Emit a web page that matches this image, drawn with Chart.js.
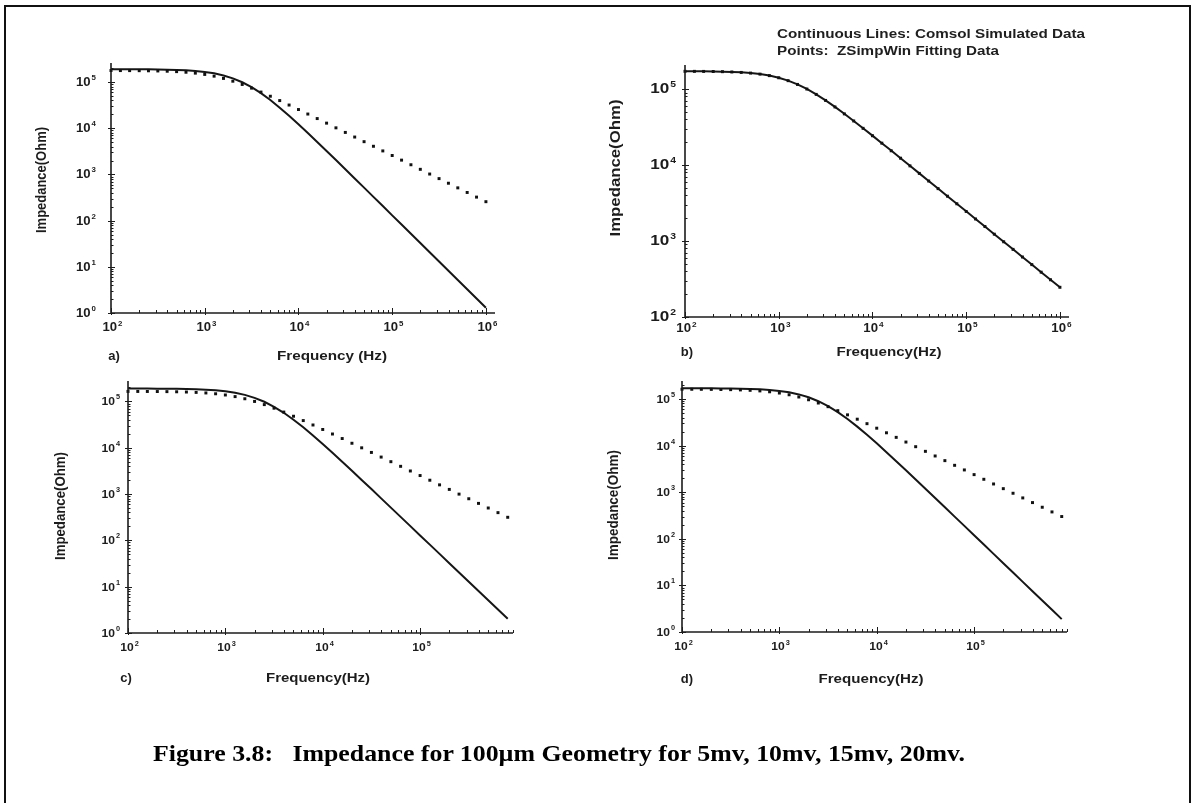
<!DOCTYPE html>
<html>
<head>
<meta charset="utf-8">
<title>Impedance for 100µm Geometry</title>
<script src="https://cdn.jsdelivr.net/npm/chart.js@4.4.1/dist/chart.umd.min.js"></script>
<style>
  html, body { margin: 0; padding: 0; background: #fff; }
  #page { position: relative; width: 1194px; height: 803px; overflow: hidden; background: #fff; }
  #frame { position: absolute; left: 4px; top: 5px; width: 1187px; height: 900px;
           border: 2px solid #111; border-bottom: none; box-sizing: border-box; }
  canvas { position: absolute; left: 0; top: 0; }
  .txt { position: absolute; white-space: pre; transform-origin: 0 50%; color: #1e1e1e; }
  .note { font: bold 12.5px "Liberation Sans", Arial, sans-serif; }
  .caption { font: bold 24px "Liberation Serif", "Times New Roman", serif; color: #000; }
</style>
</head>
<body>
<div id="page">
  <div id="frame"></div>
  <canvas id="chartA" width="1194" height="803"></canvas>
  <canvas id="chartB" width="1194" height="803"></canvas>
  <canvas id="chartC" width="1194" height="803"></canvas>
  <canvas id="chartD" width="1194" height="803"></canvas>
  <div class="txt note" data-w="308" style="left:777px; top:27px;">Continuous Lines: Comsol Simulated Data</div>
  <div class="txt note" data-w="222" style="left:777px; top:44px;">Points:  ZSimpWin Fitting Data</div>
  <div class="txt caption" data-w="812" style="left:153px; top:740px;">Figure 3.8:   Impedance for 100µm Geometry for 5mv, 10mv, 15mv, 20mv.</div>
</div>
<script>
// Frequency sweep (Hz), ten points per decade
const freqs = [100, 126, 158, 200, 251, 316, 398, 501, 631, 794,
  1000, 1259, 1585, 1995, 2512, 3162, 3981, 5012, 6310, 7943,
  10000, 12589, 15849, 19953, 25119, 31623, 39811, 50119, 63096, 79433,
  100000, 125893, 158489, 199526, 251189, 316228, 398107, 501187, 630957, 794328,
  1000000];

// a) 5 mV
const comsolA = [189700, 189600, 189300, 188900, 188300, 187300, 185700, 183300, 179600, 174000,
  165800, 154400, 139100, 120300, 99000, 77300, 57400, 40800, 27900, 18600,
  12200, 7890, 5050, 3220, 2050, 1300, 819, 518, 327, 207,
  130, 82.2, 51.9, 32.7, 20.6, 13.0, 8.2, 5.18, 3.27, 2.06, 1.30];
const fitA = [177600, 177300, 176900, 176300, 175400, 173900, 171600, 168200, 163100, 156000,
  146300, 134200, 119900, 104400, 88700, 73900, 60700, 49300, 39700, 31800,
  25400, 20300, 16200, 12900, 10200, 8120, 6450, 5120, 4070, 3230,
  2570, 2040, 1620, 1290, 1020, 812, 645, 512, 407, 323, 257];

// b) 10 mV
const comsolB = [171600, 171300, 171000, 170400, 169400, 167900, 165700, 162300, 157400, 150400,
  141000, 129100, 115200, 100200, 85100, 70900, 58200, 47200, 38000, 30500,
  24400, 19400, 15500, 12300, 9770, 7770, 6170, 4900, 3890, 3090,
  2460, 1950, 1550, 1230, 978, 777, 617, 490, 389, 309, 246];
const fitB = [171000, 170900, 170600, 170100, 169200, 167700, 165400, 162100, 157100, 150100,
  140700, 128900, 115000, 100000, 85000, 70800, 58100, 47100, 38000, 30400,
  24300, 19400, 15400, 12300, 9750, 7760, 6160, 4890, 3890, 3090,
  2450, 1950, 1550, 1230, 977, 776, 616, 489, 389, 309, 246];

// c) 15 mV
const comsolC = [189700, 189600, 189300, 188900, 188300, 187200, 185700, 183200, 179400, 173800,
  165500, 153900, 138500, 119600, 98300, 76600, 56800, 40300, 27600, 18400,
  12000, 7770, 4980, 3170, 2010, 1280, 807, 510, 322, 203,
  128, 81.0, 51.1, 32.2, 20.3, 12.8, 8.08, 5.10, 3.22, 2.03];
const fitC = [164600, 164400, 164100, 163600, 162800, 161500, 159600, 156700, 152400, 146300,
  137800, 127100, 114200, 100000, 85400, 71500, 58900, 47900, 38600, 31000,
  24800, 19800, 15800, 12500, 9960, 7920, 6290, 5000, 3970, 3150,
  2510, 1990, 1580, 1260, 997, 792, 629, 500, 397, 315];

// d) 20 mV
const comsolD = [169800, 169600, 169400, 169000, 168500, 167600, 166300, 164100, 160900, 156000,
  148800, 138700, 125200, 108500, 89500, 70100, 52200, 37100, 25500, 17000,
  11200, 7210, 4620, 2950, 1870, 1190, 750, 474, 299, 189,
  119, 75.3, 47.5, 30.0, 18.9, 11.9, 7.52, 4.75, 2.99, 1.89];
const fitD = [161600, 161400, 161100, 160500, 159700, 158400, 156400, 153300, 148900, 142500,
  134000, 123000, 110200, 96100, 81800, 68300, 56100, 45600, 36800, 29500,
  23600, 18800, 15000, 11900, 9460, 7520, 5980, 4750, 3770, 3000,
  2380, 1890, 1500, 1190, 948, 753, 598, 475, 377, 300];

const yTitle = 'Impedance(Ohm)';
const xTitles = ['Frequency (Hz)', 'Frequency(Hz)', 'Frequency(Hz)', 'Frequency(Hz)'];
const panelTags = ['a)', 'b)', 'c)', 'd)'];

const W = 1194, H = 803;
const FONT = '"Liberation Sans", Arial, Helvetica, sans-serif';
const INK = '#1c1c1c';

// Layout of each panel in page pixels
const panels = [
  { id: 'chartA', area: { l: 111, t: 65, r: 495, b: 313 }, xMin: 100, xMax: 1.25e6, yMin: 1, yMax: 2.34e5,
    tick: { size: 12.5, sup: 7.5, k: 1.05 }, yTick: { size: 12.5, sup: 7.5, k: 1.05 }, yGap: 15, xGap: 15,
    yTitlePos: [42, 180, 106], xTitlePos: [332, 356, 110], tagPos: [114, 356] },
  { id: 'chartB', area: { l: 685, t: 67, r: 1069, b: 317 }, xMin: 100, xMax: 1.25e6, yMin: 100, yMax: 1.95e5,
    tick: { size: 12, sup: 7.5, k: 1.1 }, yTick: { size: 14, sup: 8.5, k: 1.22 }, yGap: 9, xGap: 12,
    yTitlePos: [616, 168, 137], xTitlePos: [889, 352, 105], tagPos: [687, 352] },
  { id: 'chartC', area: { l: 128, t: 383, r: 513, b: 633 }, xMin: 100, xMax: 9e5, yMin: 1, yMax: 2.5e5,
    tick: { size: 11.5, sup: 7, k: 1.05 }, yTick: { size: 11.5, sup: 7, k: 1.05 }, yGap: 8, xGap: 15,
    yTitlePos: [61, 506, 108], xTitlePos: [318, 678, 104], tagPos: [126, 678] },
  { id: 'chartD', area: { l: 682, t: 383, r: 1067, b: 632 }, xMin: 100, xMax: 9e5, yMin: 1, yMax: 2.2e5,
    tick: { size: 11.5, sup: 7, k: 1.05 }, yTick: { size: 11.5, sup: 7, k: 1.05 }, yGap: 7, xGap: 15,
    yTitlePos: [614, 505, 110], xTitlePos: [871, 679, 105], tagPos: [687, 679] }
];

// "10" with a raised exponent
function powLabel(ctx, e, x, y, st, align) {
  const base = '10', sup = String(e);
  ctx.font = `bold ${st.size}px ${FONT}`;
  const w1 = ctx.measureText(base).width * st.k;
  ctx.font = `bold ${st.sup}px ${FONT}`;
  const w2 = ctx.measureText(sup).width * st.k;
  const total = w1 + 1 + w2;
  const x0 = align === 'right' ? x - total : x - total / 2;
  ctx.save();
  ctx.translate(x0, y);
  ctx.scale(st.k, 1);
  ctx.textAlign = 'left';
  ctx.textBaseline = 'middle';
  ctx.font = `bold ${st.size}px ${FONT}`;
  ctx.fillText(base, 0, 0);
  ctx.font = `bold ${st.sup}px ${FONT}`;
  ctx.fillText(sup, (w1 + 1) / st.k, -st.size * 0.36);
  ctx.restore();
}

// text squeezed or stretched to a given length
function fitText(ctx, text, cx, cy, font, len, vertical) {
  ctx.save();
  ctx.font = font;
  const k = len / ctx.measureText(text).width;
  ctx.translate(cx, cy);
  if (vertical) ctx.rotate(-Math.PI / 2);
  ctx.scale(k, 1);
  ctx.textAlign = 'center';
  ctx.textBaseline = 'middle';
  ctx.fillText(text, 0, 0);
  ctx.restore();
}

// Origin-style axes: left and bottom lines, inward minor ticks, decade labels
const originAxes = {
  id: 'originAxes',
  afterDraw(chart, args, o) {
    const ctx = chart.ctx, xs = chart.scales.x, ys = chart.scales.y, ca = chart.chartArea;
    ctx.save();
    ctx.strokeStyle = INK;
    ctx.fillStyle = INK;
    ctx.lineWidth = 1.6;
    ctx.beginPath();
    ctx.moveTo(ca.left, ca.top - 2);
    ctx.lineTo(ca.left, ca.bottom);
    ctx.lineTo(ca.right, ca.bottom);
    ctx.stroke();

    ctx.lineWidth = 1;
    const each = (min, max, fn) => {
      for (let e = Math.floor(Math.log10(min)); e <= Math.ceil(Math.log10(max)); e++) {
        for (let m = 1; m <= 9; m++) {
          const v = m * Math.pow(10, e);
          if (v < min * 0.999 || v > max * 1.001) continue;
          fn(v, m === 1, e);
        }
      }
    };
    // x ticks
    each(o.xMin, o.xMax, (v, major, e) => {
      const px = Math.round(xs.getPixelForValue(v)) + 0.5;
      ctx.beginPath();
      ctx.moveTo(px, ca.bottom + (major ? 2 : 0));
      ctx.lineTo(px, ca.bottom - (major ? 5 : 3));
      ctx.stroke();
      if (major) powLabel(ctx, e, px + 1, ca.bottom + o.xGap, o.tick, 'center');
    });
    // y ticks
    each(o.yMin, o.yMax, (v, major, e) => {
      const py = Math.round(ys.getPixelForValue(v)) + 0.5;
      ctx.beginPath();
      ctx.moveTo(ca.left - (major ? 3 : 0), py);
      ctx.lineTo(ca.left + (major ? 4 : 2.5), py);
      ctx.stroke();
      if (major) powLabel(ctx, e, ca.left - o.yGap, py, o.yTick, 'right');
    });

    // axis titles and panel tag
    fitText(ctx, yTitle, o.yTitlePos[0], o.yTitlePos[1], `bold 14px ${FONT}`, o.yTitlePos[2], true);
    fitText(ctx, o.xTitle, o.xTitlePos[0], o.xTitlePos[1], `bold 13px ${FONT}`, o.xTitlePos[2], false);
    ctx.font = `bold 13px ${FONT}`;
    ctx.textAlign = 'center';
    ctx.textBaseline = 'middle';
    ctx.fillText(o.tag, o.tagPos[0], o.tagPos[1]);
    ctx.restore();
  }
};

function makePanel(p, idx, comsol, fit) {
  const cfg = Object.assign({}, p, { xTitle: xTitles[idx], tag: panelTags[idx] });
  return new Chart(document.getElementById(p.id), {
    type: 'line',
    data: {
      datasets: [
        { label: 'ZSimpWin Fitting Data', data: fit.map((v, i) => ({ x: freqs[i], y: v })),
          showLine: false, pointStyle: 'rect', pointRadius: 2.1, pointBackgroundColor: '#111',
          pointBorderWidth: 0, pointHoverRadius: 2, order: 0, clip: false },
        { label: 'Comsol Simulated Data', data: comsol.map((v, i) => ({ x: freqs[i], y: v })),
          borderColor: '#161616', borderWidth: 2, pointRadius: 0, tension: 0, fill: false,
          order: 1, clip: false }
      ]
    },
    options: {
      responsive: false,
      animation: false,
      devicePixelRatio: 1,
      events: [],
      layout: { padding: { left: p.area.l, top: p.area.t, right: W - p.area.r, bottom: H - p.area.b } },
      plugins: { legend: { display: false }, tooltip: { enabled: false }, originAxes: cfg },
      scales: {
        x: { type: 'logarithmic', min: p.xMin, max: p.xMax, offset: false,
             grid: { display: false }, border: { display: false }, ticks: { display: false },
             afterFit(s) { s.height = 0; } },
        y: { type: 'logarithmic', min: p.yMin, max: p.yMax,
             grid: { display: false }, border: { display: false }, ticks: { display: false },
             afterFit(s) { s.width = 0; } }
      }
    },
    plugins: [originAxes]
  });
}

makePanel(panels[0], 0, comsolA, fitA);
makePanel(panels[1], 1, comsolB, fitB);
makePanel(panels[2], 2, comsolC, fitC);
makePanel(panels[3], 3, comsolD, fitD);

// stretch the note and caption lines to their set widths
document.querySelectorAll('.txt').forEach(el => {
  const w = el.getBoundingClientRect().width;
  el.style.transform = `scaleX(${(+el.dataset.w / w).toFixed(4)})`;
});
</script>
</body>
</html>
